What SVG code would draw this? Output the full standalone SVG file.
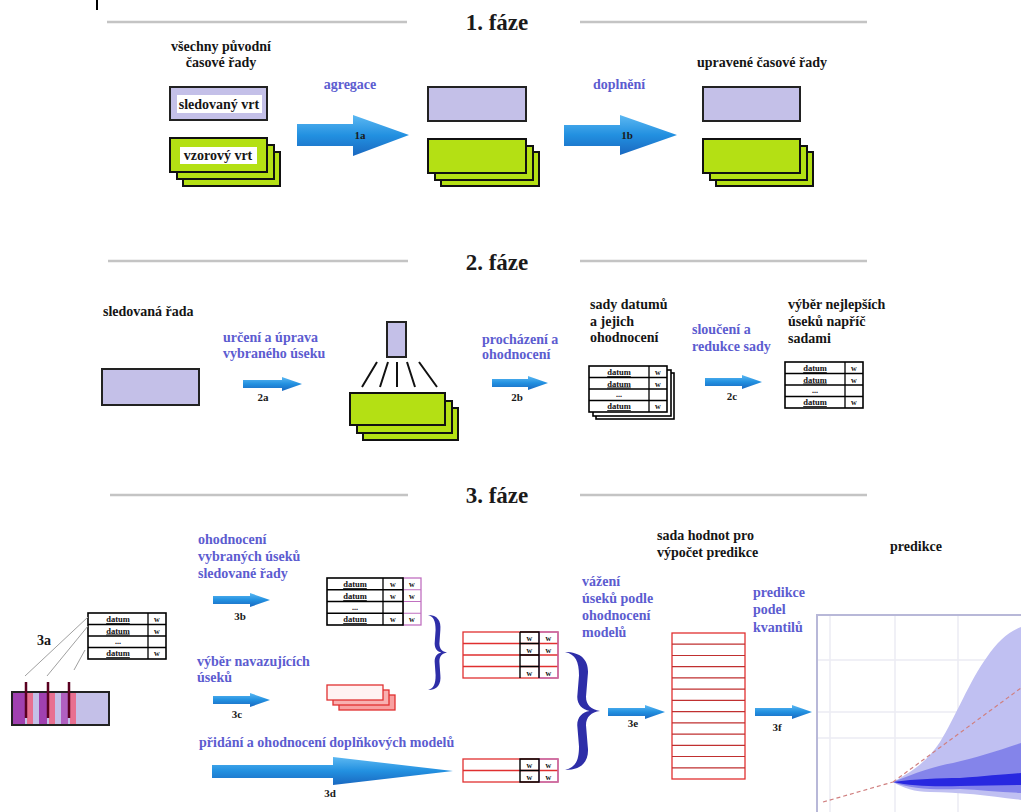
<svg xmlns="http://www.w3.org/2000/svg" xmlns:xlink="http://www.w3.org/1999/xlink" width="1021" height="812" viewBox="0 0 1021 812">
<style>
text{font-family:"Liberation Serif","DejaVu Serif","Noto Serif",serif;font-weight:bold}
.lbl{font-size:14px;fill:#5c5cd0}
.blk{font-size:14px;fill:#151515}
.ttl{font-size:23px;fill:#1a1a1a}
.num{font-size:11px;fill:#1a1a1a;text-anchor:middle}
.hdr{stroke:#c4c4c4;stroke-width:2.5}
.lav{fill:#c4c0e8;stroke:#222;stroke-width:2}
.grn{fill:#b4e014;stroke:#111;stroke-width:2}
.arr{fill:url(#ag)}
.tc{font-size:8.5px;fill:#111;text-anchor:middle;text-decoration:underline}
.tw{font-size:8px;fill:#111;text-anchor:middle}
.brace{fill:#2e2ea8}
</style>
<defs>
<linearGradient id="ag" x1="0" y1="0" x2="0" y2="1">
<stop offset="0" stop-color="#5cb8f2"/>
<stop offset="0.5" stop-color="#2290e0"/>
<stop offset="1" stop-color="#1a68c0"/>
</linearGradient>
<path id="bracep" d="M0,0 C10,0 14,8 13,20 L12,38 C12,45 15,49 20,50 C15,51 12,55 12,62 L13,80 C14,92 10,100 0,100 C6,98 8,92 8,80 L7,62 C7,55 10,51 14,50 C10,49 7,45 7,38 L8,20 C8,8 6,2 0,0 Z"/>
<g id="t2">
<rect width="78" height="46" fill="#fff" stroke="#000" stroke-width="1.6"/>
<path d="M0,11.5H78M0,23H78M0,34.5H78M60,0V46" stroke="#000" stroke-width="1.3" fill="none"/>
<text class="tc" x="30" y="9">datum</text><text class="tw" x="69" y="9">w</text>
<text class="tc" x="30" y="20.5">datum</text><text class="tw" x="69" y="20.5">w</text>
<text class="tw" x="30" y="31">...</text>
<text class="tc" x="30" y="43">datum</text><text class="tw" x="69" y="43">w</text>
</g>
<g id="t3">
<rect x="76" width="18" height="47" fill="#fff" stroke="#c070c0" stroke-width="1.3"/>
<path d="M76,11.75H94M76,23.5H94M76,35.25H94" stroke="#c070c0" stroke-width="1.1"/>
<rect width="76" height="47" fill="#fff" stroke="#000" stroke-width="1.6"/>
<path d="M0,11.75H76M0,23.5H76M0,35.25H76M56,0V47" stroke="#000" stroke-width="1.3" fill="none"/>
<text class="tc" x="28" y="9">datum</text><text class="tw" x="66" y="9">w</text><text class="tw" x="85" y="9" fill="#a040a0">w</text>
<text class="tc" x="28" y="21">datum</text><text class="tw" x="66" y="21">w</text><text class="tw" x="85" y="21" fill="#a040a0">w</text>
<text class="tw" x="28" y="32">...</text>
<text class="tc" x="28" y="44">datum</text><text class="tw" x="66" y="44">w</text><text class="tw" x="85" y="44" fill="#a040a0">w</text>
</g>
<clipPath id="cc"><rect x="817" y="615" width="204" height="197"/></clipPath>
</defs>

<!-- headers -->
<g id="headers">
<line x1="97" y1="0" x2="97" y2="10" stroke="#000" stroke-width="2"/>
<line class="hdr" x1="107" y1="22" x2="407" y2="22"/>
<line class="hdr" x1="580" y1="22" x2="867" y2="22"/>
<text class="ttl" x="497" y="30" text-anchor="middle">1. fáze</text>
<line class="hdr" x1="108" y1="261" x2="408" y2="261"/>
<line class="hdr" x1="580" y1="261" x2="867" y2="261"/>
<text class="ttl" x="497" y="270" text-anchor="middle">2. fáze</text>
<line class="hdr" x1="110" y1="495" x2="408" y2="495"/>
<line class="hdr" x1="580" y1="495" x2="867" y2="495"/>
<text class="ttl" x="497" y="503" text-anchor="middle">3. fáze</text>
</g>

<!-- phase 1 -->
<g id="p1-source">
<text class="blk" x="221" y="51" text-anchor="middle">všechny původní</text>
<text class="blk" x="221" y="67" text-anchor="middle">časové řady</text>
<rect class="lav" x="170" y="87" width="97" height="33"/>
<rect x="177" y="95" width="85" height="18" fill="#fff"/>
<text class="blk" x="219" y="109" text-anchor="middle" font-size="13">sledovaný vrt</text>
<rect class="grn" x="183" y="152" width="97" height="34"/>
<rect class="grn" x="177" y="145" width="97" height="34"/>
<rect class="grn" x="170" y="138" width="97" height="34"/>
<rect x="180" y="147" width="77" height="17" fill="#fff"/>
<text class="blk" x="218" y="160" text-anchor="middle" font-size="13">vzorový vrt</text>
</g>
<g id="p1-agg">
<rect class="lav" x="428" y="87" width="98" height="34"/>
<rect class="grn" x="441" y="152" width="98" height="34"/>
<rect class="grn" x="435" y="146" width="98" height="34"/>
<rect class="grn" x="428" y="139" width="98" height="34"/>
</g>
<g id="p1-result">
<text class="blk" x="762" y="67" text-anchor="middle" font-size="13">upravené časové řady</text>
<rect class="lav" x="703" y="87" width="97" height="34"/>
<rect class="grn" x="716" y="152" width="97" height="34"/>
<rect class="grn" x="710" y="146" width="97" height="34"/>
<rect class="grn" x="703" y="139" width="97" height="34"/>
</g>

<!-- phase 2 -->
<g id="p2-series">
<text class="blk" x="103" y="316">sledovaná řada</text>
<rect class="lav" x="102" y="369" width="97" height="36"/>
</g>
<g id="p2-funnel">
<rect class="lav" x="387" y="322" width="19" height="35"/>
<path d="M377,362L362,387M388,362L380,387M397,362L397,387M407,362L415,387M419,362L437,387" stroke="#111" stroke-width="2"/>
<rect class="grn" x="363" y="408" width="95" height="32"/>
<rect class="grn" x="357" y="401" width="95" height="32"/>
<rect class="grn" x="350" y="393" width="95" height="32"/>
</g>
<g id="p2-sets">
<text class="blk" x="590" y="309">sady datumů</text>
<text class="blk" x="590" y="326">a jejich</text>
<text class="blk" x="590" y="342">ohodnocení</text>
<rect x="596" y="373" width="78" height="46" fill="#fff" stroke="#000" stroke-width="1.6"/>
<rect x="593" y="370" width="78" height="46" fill="#fff" stroke="#000" stroke-width="1.6"/>
<use xlink:href="#t2" x="589" y="366"/>
</g>
<g id="p2-best">
<text class="blk" x="788" y="309">výběr nejlepších</text>
<text class="blk" x="788" y="326">úseků napříč</text>
<text class="blk" x="788" y="343">sadami</text>
<use xlink:href="#t2" x="785" y="362"/>
</g>

<!-- phase 3 -->
<g id="p3-source">
<text class="blk" x="44" y="645" text-anchor="middle" font-size="12">3a</text>
<use xlink:href="#t2" x="88" y="613"/>
<rect class="lav" x="12" y="692" width="97" height="33"/>
<rect x="13" y="693" width="12" height="31" fill="#a040b0"/>
<rect x="27" y="693" width="6" height="31" fill="#e87090"/>
<rect x="39" y="693" width="8" height="31" fill="#a040b0"/>
<rect x="49" y="693" width="6" height="31" fill="#e87090"/>
<rect x="61" y="693" width="7" height="31" fill="#b060c0"/>
<rect x="70" y="693" width="6" height="31" fill="#e87090"/>
<path d="M26,682V718M48,682V718M69,682V718" stroke="#5a0020" stroke-width="2.5"/>
<path d="M88,617L25,676M88,626L47,676M85,650L74,670" stroke="#a0a0a0" stroke-width="1"/>
</g>
<g id="p3-eval">
<use xlink:href="#t3" x="327" y="578"/>
</g>
<g id="p3-follow">
<rect x="339" y="695" width="56" height="15" fill="#f8a0a0" stroke="#e03030" stroke-width="1.3"/>
<rect x="333" y="690" width="56" height="15" fill="#f8b0b0" stroke="#e03030" stroke-width="1.3"/>
<rect x="327" y="685" width="56" height="15" fill="#fff2f2" stroke="#e03030" stroke-width="1.3"/>
</g>
<g id="p3-merged">
<rect x="463" y="632" width="95" height="46" fill="#fff" stroke="#e03030" stroke-width="1.3"/>
<path d="M463,643.5H558M463,655H558M463,666.5H558" stroke="#e03030" stroke-width="1.3"/>
<rect x="539" y="632" width="19" height="46" fill="none" stroke="#c070c0" stroke-width="1.2"/>
<path d="M520,632V678M520,632H539V678M520,643.5H539M520,655H539M520,666.5H539" stroke="#000" stroke-width="1.4" fill="none"/>
<text class="tw" x="529.5" y="641">w</text><text class="tw" x="548.5" y="641" fill="#a040a0">w</text>
<text class="tw" x="529.5" y="652.5">w</text><text class="tw" x="548.5" y="652.5" fill="#a040a0">w</text>
<text class="tw" x="529.5" y="675.5">w</text><text class="tw" x="548.5" y="675.5" fill="#a040a0">w</text>
</g>
<g id="p3-models">
<rect x="463" y="759" width="95" height="23" fill="#fff" stroke="#e03030" stroke-width="1.3"/>
<path d="M463,770.5H558" stroke="#e03030" stroke-width="1.3"/>
<rect x="539" y="759" width="19" height="23" fill="none" stroke="#c070c0" stroke-width="1.2"/>
<path d="M520,759V782H539V759ZM520,770.5H539" stroke="#000" stroke-width="1.4" fill="none"/>
<text class="tw" x="529.5" y="768">w</text><text class="tw" x="548.5" y="768" fill="#a040a0">w</text>
<text class="tw" x="529.5" y="779.5">w</text><text class="tw" x="548.5" y="779.5" fill="#a040a0">w</text>
</g>
<g id="p3-values">
<text class="blk" x="657" y="540">sada hodnot pro</text>
<text class="blk" x="657" y="557">výpočet predikce</text>
<rect x="672" y="633" width="73" height="146" fill="#fff" stroke="#e03030" stroke-width="1.3"/>
<path d="M672,644.2H745M672,655.5H745M672,666.7H745M672,677.9H745M672,689.2H745M672,700.4H745M672,711.6H745M672,722.8H745M672,734.1H745M672,745.3H745M672,756.5H745M672,767.8H745" stroke="#c03030" stroke-width="1.2"/>
</g>
<g id="p3-prediction">
<text class="blk" x="890" y="551">predikce</text>
<g clip-path="url(#cc)">
<rect x="817" y="615" width="204" height="197" fill="#fff"/>
<path d="M830,615V812M895,615V812M958,615V812M817,660H1021M817,712H1021M817,738H1021" stroke="#ececf4" stroke-width="1.5"/>
<path d="M893,782C915,770 928,760 940,742C955,718 970,680 987,657C997,642 1008,632 1021,627V800C990,796 960,792 930,792C915,792 903,788 893,782Z" fill="#c0c0f2"/>
<path d="M893,782C915,773 935,766 953,763C975,758 1000,750 1021,743V793C1000,792 980,790 960,789C935,790 910,789 893,782Z" fill="#8484ea"/>
<path d="M893,782C915,779 940,778 960,778C985,776 1005,774 1021,773V785C1000,785 980,786 960,786C935,787 910,786 893,782Z" fill="#2828e0"/>
<path d="M823,802L893,782M893,782L1021,688" stroke="#d08080" stroke-width="1.2" stroke-dasharray="4,3" fill="none"/>
</g>
<path d="M817,812V615H1021" fill="none" stroke="#b8b8d8" stroke-width="2"/>
</g>

<!-- connectors -->
<g id="connectors">
<polygon class="arr" points="297,124 353,124 353,115 409,135 353,156 353,146 297,146"/>
<text class="num" x="360" y="139">1a</text>
<text class="lbl" x="350" y="89" text-anchor="middle">agregace</text>
<polygon class="arr" points="564,125 620,125 620,115 677,135 620,155 620,146 564,146"/>
<text class="num" x="627" y="139">1b</text>
<text class="lbl" x="619" y="89" text-anchor="middle">doplnění</text>

<polygon class="arr" points="243,380 282,380 282,377 302,384 282,391 282,388 243,388"/>
<text class="num" x="263" y="401">2a</text>
<text class="lbl" x="223" y="342">určení a úprava</text>
<text class="lbl" x="223" y="358">vybraného úseku</text>

<polygon class="arr" points="492,379 528,379 528,376 548,383 528,390 528,387 492,387"/>
<text class="num" x="517" y="401">2b</text>
<text class="lbl" x="482" y="344">procházení a</text>
<text class="lbl" x="482" y="359">ohodnocení</text>

<polygon class="arr" points="705,378 742,378 742,375 762,382 742,389 742,386 705,386"/>
<text class="num" x="732" y="400">2c</text>
<text class="lbl" x="692" y="334">sloučení a</text>
<text class="lbl" x="692" y="351">redukce sady</text>

<polygon class="arr" points="213,596 250,596 250,593 270,600 250,607 250,604 213,604"/>
<text class="num" x="240" y="620">3b</text>
<text class="lbl" x="198" y="544">ohodnocení</text>
<text class="lbl" x="198" y="561">vybraných úseků</text>
<text class="lbl" x="198" y="578">sledované řady</text>

<polygon class="arr" points="213,696 250,696 250,693 270,700 250,707 250,704 213,704"/>
<text class="num" x="237" y="718">3c</text>
<text class="lbl" x="197" y="666">výběr navazujících</text>
<text class="lbl" x="197" y="682">úseků</text>

<polygon class="arr" points="212,765 333,765 333,757 453,771 333,785 333,778 212,778"/>
<text class="num" x="330" y="797">3d</text>
<text class="lbl" x="199" y="747">přidání a ohodnocení doplňkových modelů</text>

<use xlink:href="#bracep" class="brace" transform="translate(428,615) scale(0.95,0.75)"/>
<use xlink:href="#bracep" class="brace" transform="translate(565,652) scale(1.75,1.18)"/>

<polygon class="arr" points="608,708 645,708 645,705 665,712 645,719 645,716 608,716"/>
<text class="num" x="633" y="727">3e</text>
<text class="lbl" x="582" y="586">vážení</text>
<text class="lbl" x="582" y="603">úseků podle</text>
<text class="lbl" x="582" y="620">ohodnocení</text>
<text class="lbl" x="582" y="637">modelů</text>

<polygon class="arr" points="755,708 792,708 792,705 812,712 792,719 792,716 755,716"/>
<text class="num" x="777" y="731">3f</text>
<text class="lbl" x="753" y="597">predikce</text>
<text class="lbl" x="753" y="614">podel</text>
<text class="lbl" x="753" y="632">kvantilů</text>
</g>
</svg>
